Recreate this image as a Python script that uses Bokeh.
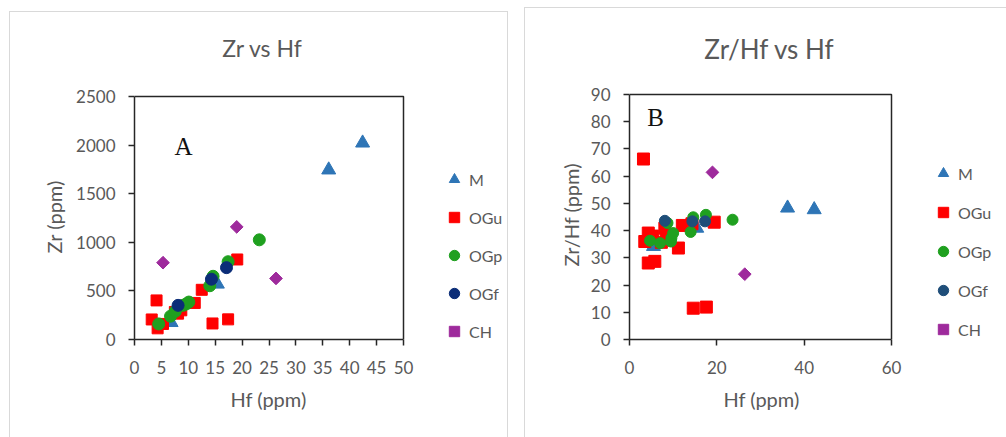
from bokeh.plotting import figure
from bokeh.layouts import row
from bokeh.models import Range1d, FixedTicker, Legend, LegendItem, Label, Title
from bokeh.embed import file_html
from bokeh.resources import INLINE
import numpy as np

# ---------------- data: panel A (Zr vs Hf) ----------------
m_hf_a = [6.8, 15.4, 36.1, 42.4]
m_zr_a = [175, 570, 1744, 2021]
ogu_hf_a = [3.2, 4.1, 4.3, 5.3, 7.5, 8.1, 8.7, 11.2, 12.5, 14.5, 17.4, 19.1]
ogu_zr_a = [206, 402, 115, 160, 283, 266, 300, 376, 511, 165, 207, 823]
ogp_hf_a = [4.5, 6.7, 7.6, 9.0, 9.6, 10.1, 14.0, 14.6, 17.4, 23.2]
ogp_zr_a = [160, 240, 290, 351, 365, 385, 553, 650, 800, 1025]
ogf_hf_a = [8.1, 14.3, 17.1]
ogf_zr_a = [351, 620, 739]
ch_hf_a = [5.3, 19.0, 26.3]
ch_zr_a = [790, 1158, 628]

# ---------------- data: panel B (Zr/Hf vs Hf) ----------------
m_hf_b = [5.5, 15.4, 36.2, 42.3]
m_r_b = [34.2, 40.9, 48.3, 47.7]
ogu_hf_b = [3.2, 4.3, 3.5, 5.3, 4.3, 5.8, 7.3, 8.5, 8.1, 11.2, 12.1, 14.3, 19.4, 14.6, 17.6]
ogu_r_b = [66.3, 39.1, 36.0, 38.0, 28.1, 28.7, 35.7, 36.6, 40.9, 33.6, 41.9, 42.5, 43.1, 11.5, 11.9]
ogp_hf_b = [4.7, 7.0, 8.7, 9.5, 9.6, 10.0, 14.0, 14.6, 17.5, 23.6]
ogp_r_b = [36.3, 35.4, 42.8, 36.0, 37.3, 39.1, 39.5, 44.9, 45.8, 44.0]
ogf_hf_b = [8.1, 14.4, 17.3]
ogf_r_b = [43.6, 43.4, 43.4]
ch_hf_b = [19.0, 26.4]
ch_r_b = [61.4, 24.0]

series_names = ["M", "OGu", "OGp", "OGf", "CH"]
x_ticks_a = [0, 5, 10, 15, 20, 25, 30, 35, 40, 45, 50]
y_ticks_a = [0, 500, 1000, 1500, 2000, 2500]
x_ticks_b = [0, 20, 40, 60]
y_ticks_b = [0, 10, 20, 30, 40, 50, 60, 70, 80, 90]

FONT = "Lato"
GREY = "#595959"
AX = "#262626"


def make_panel(title, title_size, w, h, geom, xt, yt, ylabel, data, sizes, ogf_color,
               letter, letter_px, legend_loc, legend_spacing, title_dx, title_cy,
               xlab_off, ylab_off, ylab_standoff):
    # geom: canvas pixels of the plot box (left, right, top, bottom) and frame right/top edges
    box_l, box_r, box_t, box_b, frame_r, frame_t = geom
    x0, x1 = xt[0], xt[-1]
    y0, y1 = yt[0], yt[-1]
    upx = (x1 - x0) / (box_r - box_l)      # data units per pixel, x
    upy = (y1 - y0) / (box_b - box_t)      # data units per pixel, y
    x_end = x0 + (frame_r - box_l) * upx
    y_end = y0 + (box_b - frame_t) * upy

    p = figure(width=w, height=h, output_backend="svg", toolbar_location=None,
               x_range=Range1d(x0, x_end), y_range=Range1d(y0, y_end),
               min_border_left=box_l, min_border_right=w - frame_r,
               min_border_top=frame_t, min_border_bottom=h - box_b,
               background_fill_color="white", border_fill_color="white")
    p.outline_line_color = None
    p.xgrid.visible = False
    p.ygrid.visible = False
    p.xaxis.ticker = FixedTicker(ticks=xt)
    p.yaxis.ticker = FixedTicker(ticks=yt)
    p.xaxis.bounds = (x0, x1)
    p.yaxis.bounds = (y0, y1)
    for ax in (p.xaxis[0], p.yaxis[0]):
        ax.axis_line_color = AX
        ax.axis_line_width = 1.5
        ax.major_tick_line_color = AX
        ax.major_tick_line_width = 1.5
        ax.major_tick_out = 6
        ax.major_tick_in = 0
        ax.minor_tick_line_color = None
        ax.major_label_text_font = FONT
        ax.major_label_text_font_size = "17px"
        ax.major_label_text_color = GREY
    p.xaxis.major_label_standoff = 15
    p.yaxis.major_label_standoff = 13

    # axis titles, placed beside the axes and aligned to the plot box
    p.add_layout(Title(text="Hf (ppm)", align="left", offset=xlab_off, standoff=20,
                       vertical_align="top", text_font=FONT, text_font_size="20px",
                       text_font_style="normal", text_color=GREY), "below")
    p.add_layout(Title(text=ylabel, align="left", offset=ylab_off, standoff=ylab_standoff,
                       text_font=FONT, text_font_size="20px",
                       text_font_style="normal", text_color=GREY), "left")

    # top and right sides of the plot box
    p.line([x0, x1, x1], [y1, y1, y0], line_color=AX, line_width=1.5)

    (mx, my), (ux, uy), (px_, py), (fx, fy), (cx, cy) = data
    sm, su, sp, sf, sc = sizes
    r_m = p.scatter(mx, my, marker="triangle", size=sm, fill_color="#2E75B6", line_color="#2E75B6")
    r_u = p.scatter(ux, uy, marker="square", size=su, fill_color="#FF0000", line_color="#FF0000")
    r_p = p.scatter(px_, py, marker="circle", size=sp, fill_color="#1FA01F", line_color="#1FA01F")
    r_f = p.scatter(fx, fy, marker="circle", size=sf, fill_color=ogf_color, line_color=ogf_color)
    r_c = p.scatter(cx, cy, marker="square", angle=np.pi / 4, size=sc,
                    fill_color="#9E2A9C", line_color="#9E2A9C")

    items = [LegendItem(label=n, renderers=[r]) for n, r in
             zip(series_names, [r_m, r_u, r_p, r_f, r_c])]
    lg = Legend(items=items, location=legend_loc, orientation="vertical",
                padding=0, margin=0, spacing=legend_spacing,
                glyph_width=26, glyph_height=26,
                label_height=26, label_standoff=2, border_line_alpha=0,
                background_fill_alpha=0, label_text_font=FONT,
                label_text_font_size="16px", label_text_color=GREY)
    p.add_layout(lg, "center")

    # chart title (inside the extended frame, above the plot box)
    tx = x0 + ((box_r - box_l) / 2 + title_dx) * upx
    ty = y0 + (box_b - title_cy) * upy
    p.add_layout(Label(x=tx, y=ty, text=title, text_font=FONT, text_font_size=title_size,
                       text_color=GREY, text_align="center", text_baseline="middle"))

    # panel letter
    lx = x0 + (letter_px[0] - box_l) * upx
    ly = y0 + (box_b - letter_px[1]) * upy
    p.add_layout(Label(x=lx, y=ly, text=letter,
                       text_font="Liberation Serif", text_font_size="25px",
                       text_color="#111111", text_align="center",
                       text_baseline="middle"))
    return p


# left panel: canvas origin at page (9, 11)
pA = make_panel("Zr vs Hf", "23px", 499, 426, (124, 393, 85, 332, 497, 15),
                x_ticks_a, y_ticks_a, "Zr (ppm)",
                [(m_hf_a, m_zr_a), (ogu_hf_a, ogu_zr_a), (ogp_hf_a, ogp_zr_a),
                 (ogf_hf_a, ogf_zr_a), (ch_hf_a, ch_zr_a)],
                (14, 11, 12, 12, 9), "#0B2D78", "A", (173, 136), (307, -5), 12, -6.5, 36,
                96, 86, 15)
pA.margin = (11, 0, 0, 9)
pA.styles = {"border-top": "1px solid #d9d9d9", "border-left": "1px solid #d9d9d9",
             "border-right": "1px solid #d9d9d9"}

# right panel: canvas origin at page (524, 7)
pB = make_panel("Zr/Hf vs Hf", "26px", 482, 430, (104, 366, 86, 331, 472, 15),
                x_ticks_b, y_ticks_b, "Zr/Hf (ppm)",
                [(m_hf_b, m_r_b), (ogu_hf_b, ogu_r_b), (ogp_hf_b, ogp_r_b),
                 (ogf_hf_b, ogf_r_b), (ch_hf_b, ch_r_b)],
                (14, 12, 11, 11, 9), "#1F4E79", "B", (130, 109), (301, -3), 13, 9, 40,
                94, 73, 10)
pB.margin = (7, 0, 0, 16)
pB.styles = {"border-top": "1px solid #d9d9d9", "border-left": "1px solid #d9d9d9"}

layout = row(pA, pB)
open("out.html", "w").write(file_html(layout, INLINE))
